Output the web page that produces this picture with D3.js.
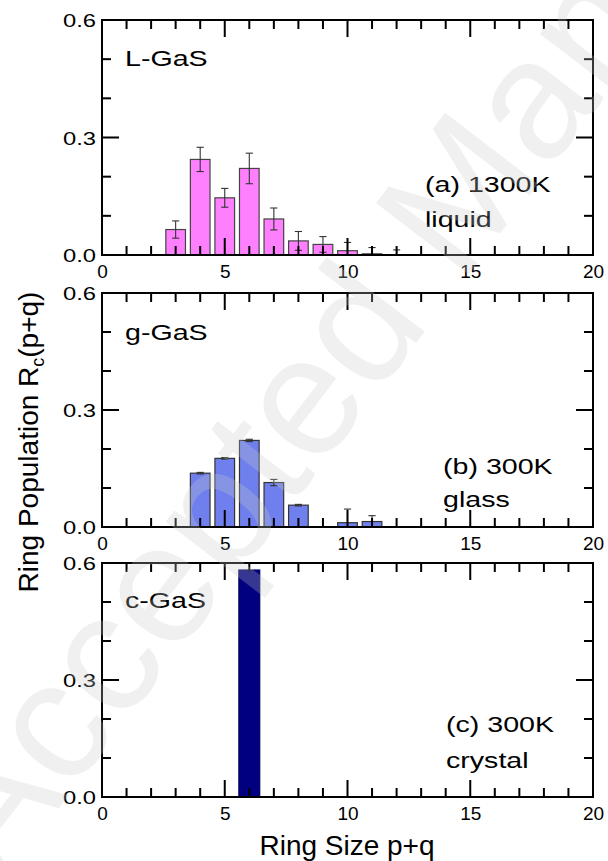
<!DOCTYPE html>
<html>
<head>
<meta charset="utf-8">
<script src="https://cdn.jsdelivr.net/npm/d3@7"></script>
<style>
  body { margin: 0; background: #fff; }
  svg { display: block; font-family: "Liberation Sans", Arial, sans-serif; }
</style>
</head>
<body>
<svg id="chart" width="608" height="861"></svg>
<script>
// ring sizes and populations
const liquidSizes = [3, 4, 5, 6, 7, 8, 9, 10, 11, 12];
const liquidValues = [0.065, 0.244, 0.146, 0.221, 0.092, 0.036, 0.027, 0.011, 0.003, 0.001];
const liquidErrors = [0.022, 0.031, 0.024, 0.039, 0.028, 0.024, 0.020, 0.021, 0.016, 0.012];

const glassSizes = [4, 5, 6, 7, 8, 10, 11];
const glassValues = [0.138, 0.176, 0.222, 0.114, 0.056, 0.011, 0.014];
const glassErrors = [0.002, 0.002, 0.003, 0.008, 0.002, 0.035, 0.015];

const crystalSizes = [6];
const crystalValues = [0.582];
const crystalErrors = [0];

const xTicks = [0, 5, 10, 15, 20];
const xMinorTicks = d3.range(0, 21, 1);
const yTicks = [0.0, 0.3, 0.6];
const yMinorTicks = [0.0, 0.1, 0.2, 0.3, 0.4, 0.5, 0.6];

const svg = d3.select("#chart");

const left = 102, right = 593;
const x = d3.scaleLinear().domain([0, 20]).range([left, right]);

const panels = [
    { top: 20, bottom: 255, sizes: liquidSizes, values: liquidValues, errors: liquidErrors,
      fill: "#ff80ff", stroke: "#444", barW: 0.8, name: "L-GaS", label: ["(a) 1300K", "liquid"],
      nameY: 66, labelX: 425, labelY: [192, 227] },
    { top: 293, bottom: 527, sizes: glassSizes, values: glassValues, errors: glassErrors,
      fill: "#6f80ee", stroke: "#333", barW: 0.8, name: "g-GaS", label: ["(b) 300K", "glass"],
      nameY: 340, labelX: 443, labelY: [474, 507] },
    { top: 563, bottom: 797, sizes: crystalSizes, values: crystalValues, errors: crystalErrors,
      fill: "#000080", stroke: "#000060", barW: 0.85, name: "c-GaS", label: ["(c) 300K", "crystal"],
      nameY: 608, labelX: 446, labelY: [732, 768] }
];

const stretch = 1.3;
const major = 17, minor = 9, tw = 2;

panels.forEach((p, i) => {
    const y = d3.scaleLinear().domain([0, 0.6]).range([p.bottom, p.top]);
    const g = svg.append("g");

    g.append("clipPath").attr("id", "clip" + i)
        .append("rect")
        .attr("x", left).attr("y", p.top)
        .attr("width", right - left).attr("height", p.bottom - p.top);

    const data = p.sizes.map((s, k) => ({ s: s, v: p.values[k], e: p.errors[k] }));

    const plot = g.append("g").attr("clip-path", `url(#clip${i})`);

    plot.selectAll(".bar")
        .data(data)
        .enter().append("rect")
        .attr("class", "bar")
        .attr("x", d => x(d.s - p.barW / 2))
        .attr("width", d => x(p.barW) - x(0))
        .attr("y", d => y(d.v))
        .attr("height", d => y(0) - y(d.v))
        .attr("fill", p.fill)
        .attr("stroke", p.stroke)
        .attr("stroke-width", 1.2);

    const errs = data.filter(d => d.e > 0);
    const capW = 3.6;
    const eb = plot.selectAll(".err")
        .data(errs)
        .enter().append("g")
        .attr("class", "err")
        .attr("stroke", "#333").attr("stroke-width", 1.1);
    eb.append("line")
        .attr("x1", d => x(d.s)).attr("x2", d => x(d.s))
        .attr("y1", d => y(d.v - d.e)).attr("y2", d => y(d.v + d.e));
    eb.append("line")
        .attr("x1", d => x(d.s) - capW).attr("x2", d => x(d.s) + capW)
        .attr("y1", d => y(d.v + d.e)).attr("y2", d => y(d.v + d.e));
    eb.append("line")
        .attr("x1", d => x(d.s) - capW).attr("x2", d => x(d.s) + capW)
        .attr("y1", d => y(d.v - d.e)).attr("y2", d => y(d.v - d.e));

    // inward ticks on all four sides: minor every 1 / 0.1, major every 5 / 0.3
    const isMajorX = d => d % 5 === 0;
    const isMajorY = d => Math.round(d * 10) % 3 === 0;
    const ticks = g.append("g").attr("class", "ticks").attr("fill", "#000");
    ticks.selectAll(".xb").data(xMinorTicks).enter().append("rect")
        .attr("class", "xb")
        .attr("x", d => x(d) - tw / 2).attr("width", tw)
        .attr("y", d => p.bottom - (isMajorX(d) ? major : minor))
        .attr("height", d => isMajorX(d) ? major : minor);
    ticks.selectAll(".xt").data(xMinorTicks).enter().append("rect")
        .attr("class", "xt")
        .attr("x", d => x(d) - tw / 2).attr("width", tw)
        .attr("y", p.top)
        .attr("height", d => isMajorX(d) ? major : minor);
    ticks.selectAll(".yl").data(yMinorTicks).enter().append("rect")
        .attr("class", "yl")
        .attr("x", left).attr("width", d => isMajorY(d) ? major : minor)
        .attr("y", d => y(d) - tw / 2).attr("height", tw);
    ticks.selectAll(".yr").data(yMinorTicks).enter().append("rect")
        .attr("class", "yr")
        .attr("x", d => right - (isMajorY(d) ? major : minor))
        .attr("width", d => isMajorY(d) ? major : minor)
        .attr("y", d => y(d) - tw / 2).attr("height", tw);

    // x tick labels from the axis generator
    const xb = g.append("g").attr("transform", `translate(0,${p.bottom})`)
        .call(d3.axisBottom(x).tickValues(xTicks).tickSize(0).tickPadding(10));
    xb.select(".domain").remove();
    xb.selectAll(".tick text")
        .attr("font-family", "Liberation Sans, Arial, sans-serif")
        .attr("font-size", 19).attr("fill", "#000");

    // y tick labels, slightly wide like the original
    g.selectAll(".ylab").data(yTicks).enter().append("text")
        .attr("class", "ylab")
        .attr("transform", d => `translate(96,${y(d) + 7}) scale(1.25,1)`)
        .attr("text-anchor", "end")
        .attr("font-size", 19)
        .text(d => d3.format(".1f")(d));

    g.append("rect")
        .attr("x", left).attr("y", p.top)
        .attr("width", right - left).attr("height", p.bottom - p.top)
        .attr("fill", "none").attr("stroke", "#000").attr("stroke-width", 2);

    g.append("text")
        .attr("transform", `translate(125,${p.nameY}) scale(${stretch},1)`)
        .attr("font-size", 22)
        .text(p.name);

    p.label.forEach((t, k) => {
        g.append("text")
            .attr("transform", `translate(${p.labelX},${p.labelY[k]}) scale(${stretch},1)`)
            .attr("font-size", 22)
            .text(t);
    });
});

svg.append("text")
    .attr("x", 347).attr("y", 855)
    .attr("text-anchor", "middle")
    .attr("font-size", 28)
    .text("Ring Size p+q");

const yTitle = svg.append("text")
    .attr("transform", "translate(38,442) rotate(-90)")
    .attr("text-anchor", "middle")
    .attr("font-size", 28);
yTitle.append("tspan").text("Ring Population R");
yTitle.append("tspan").attr("font-size", 18).attr("dy", 6).text("c");
yTitle.append("tspan").attr("dy", -6).text("(p+q)");

// faint diagonal watermark
svg.append("text")
    .attr("transform", "translate(0,885) rotate(-52.5)")
    .attr("font-size", 170)
    .attr("fill", "rgb(200,200,200)")
    .attr("fill-opacity", 0.27)
    .text("Accepted Manuscript");
</script>
</body>
</html>
